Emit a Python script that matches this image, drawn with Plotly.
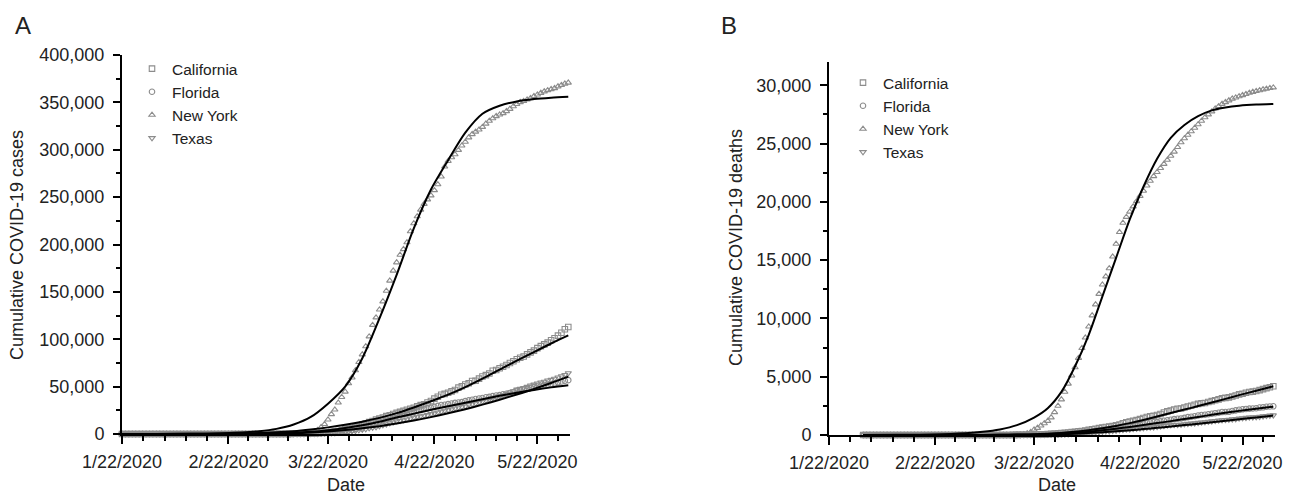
import numpy as np
import pandas as pd
import plotly.graph_objects as go

FONT = "Liberation Sans, Arial, Helvetica, sans-serif"

STATES = ["California", "Florida", "New York", "Texas"]
SYMBOLS = ["square-open", "circle-open", "triangle-up-open", "triangle-down-open"]

# ---------------- Panel A: cumulative cases, 1/22/2020 .. 5/31/2020 ----------------
CASE_START, CASE_END = "2020-01-22", "2020-05-31"

CA_CASES_JANFEB = [0, 0, 0, 1, 2, 2, 2, 2, 2, 3,
                   3, 6, 6, 6, 6, 6, 6, 6, 6, 6, 7, 7, 7, 7, 7, 7, 7, 7, 7, 8,
                   8, 8, 8, 8, 8, 10, 10, 21, 24]
CA_CASES_MAR = [33, 38, 45, 55, 60, 69, 88, 114, 133, 157, 177, 221, 282, 340, 426, 557, 698, 891, 1067, 1283,
                1536, 1829, 2240, 2644, 3183, 4040, 5095, 5852, 6360, 7421, 8582]
CA_CASES_APR = [9932, 11190, 12569, 13796, 15154, 16284, 17351, 18897, 19710, 21081,
                22348, 23323, 24424, 25536, 26686, 27677, 29157, 30491, 31431, 33261,
                34864, 37344, 39254, 41355, 42368, 43464, 44966, 46500, 48917, 50442]
CA_CASES_MAY = [52197, 53616, 55884, 56212, 58456, 60616, 62148, 63779, 66680, 67600,
                69329, 70978, 72798, 74871, 76793, 78839, 80430, 81795, 84057, 86197,
                88031, 90631, 92710, 94558, 96400, 98980, 101050, 103813, 106878, 110583, 113006]

FL_CASES_JANFEB = [0, 0, 0, 0, 0, 0, 0, 0, 0, 0,
                   0, 0, 0, 0, 0, 0, 0, 0, 0, 0, 0, 0, 0, 0, 0, 0, 0, 0, 0, 0,
                   0, 0, 0, 0, 0, 0, 0, 0, 0]
FL_CASES_MAR = [2, 2, 3, 3, 4, 7, 12, 14, 14, 15, 28, 35, 50, 76, 100, 142, 192, 314, 415, 563,
                764, 1000, 1227, 1412, 1977, 2484, 3198, 3763, 4246, 5473, 6741]
FL_CASES_APR = [6956, 9000, 10268, 11545, 12350, 13324, 14747, 15698, 16826, 17968,
                18986, 19895, 21019, 21628, 22519, 23340, 24753, 25492, 26314, 27059,
                27869, 28576, 29648, 30533, 30839, 31528, 32138, 32846, 33193, 33690]
FL_CASES_MAY = [34728, 35463, 36078, 36897, 37439, 38002, 38828, 39199, 40001, 40596,
                40982, 41923, 42402, 43210, 44138, 45588, 46442, 46944, 47471, 48675,
                49451, 50127, 50867, 51746, 52255, 52634, 53285, 54497, 55424, 56163, 56830]

NY_CASES_JANFEB = [0, 0, 0, 0, 0, 0, 0, 0, 0, 0,
                   0, 0, 0, 0, 0, 0, 0, 0, 0, 0, 0, 0, 0, 0, 0, 0, 0, 0, 0, 0,
                   0, 0, 0, 0, 0, 0, 0, 0, 0]
NY_CASES_MAR = [1, 1, 2, 11, 22, 44, 89, 106, 142, 173, 217, 326, 421, 610, 732, 950, 1700, 2382, 4152, 7102,
                10356, 15168, 20875, 25665, 33066, 38987, 44635, 53363, 59568, 67174, 75832]
NY_CASES_APR = [83889, 92506, 102870, 114996, 122911, 131239, 139875, 151061, 161779, 172348,
                181026, 189033, 195031, 202208, 213779, 222284, 229642, 236732, 242786, 247512,
                251690, 257216, 263460, 271590, 282143, 288045, 291996, 295106, 299691, 304372]
NY_CASES_MAY = [308314, 312977, 316415, 318953, 321192, 323978, 327469, 330407, 333122, 335395,
                337055, 338485, 340661, 343051, 345813, 348232, 350121, 351371, 352845, 354370,
                356458, 358154, 359926, 361515, 362764, 363836, 364965, 366733, 368284, 369660, 370770]

TX_CASES_JANFEB = [0, 0, 0, 0, 0, 0, 0, 0, 0, 0,
                   0, 0, 0, 0, 0, 0, 0, 0, 0, 0, 0, 0, 0, 0, 0, 0, 0, 0, 0, 0,
                   0, 0, 0, 0, 0, 0, 0, 0, 0]
TX_CASES_MAR = [0, 0, 0, 1, 4, 5, 8, 11, 13, 14, 21, 30, 40, 58, 73, 85, 109, 176, 262, 376,
                575, 760, 894, 1038, 1396, 1731, 2108, 2639, 3113, 3354, 4055]
TX_CASES_APR = [4588, 5281, 6110, 6812, 7276, 8262, 9353, 10230, 11409, 12315,
                13484, 13906, 14624, 15492, 16455, 17371, 18260, 18923, 19458, 20087,
                21069, 21944, 22806, 23773, 24631, 25297, 26171, 27054, 28087, 28727]
TX_CASES_MAY = [29229, 30917, 31548, 32332, 33369, 34422, 35390, 36609, 37860, 38869,
                39869, 41048, 42403, 43851, 45198, 46999, 47784, 48693, 49912, 51323,
                52268, 53449, 54509, 55348, 56560, 57230, 58408, 59776, 61006, 62338, 64287]

# fitted curves (days after 1/22/2020)
FIT_DAYS_A = [0, 10, 20, 30, 40, 45, 50, 55, 60, 65, 70, 75, 80, 85, 90, 95, 100, 105, 110, 115, 120, 125, 130]
CA_FIT_A = [30, 80, 200, 450, 1000, 1800, 3000, 4800, 7000, 9700, 13000, 17000, 22000, 28000, 34500, 41500,
            49500, 58500, 68000, 77500, 86500, 95500, 104000]
FL_FIT_A = [10, 30, 80, 150, 300, 650, 1200, 2300, 4000, 6300, 9200, 13000, 17500, 21500, 25500, 29300,
            33000, 36700, 40300, 43500, 46500, 49200, 51500]
NY_FIT_A = [20, 80, 270, 900, 3000, 5400, 10000, 18000, 32000, 50000, 80000, 122000, 168000, 217000, 258000,
            289000, 318000, 338000, 346500, 351000, 353500, 355000, 356000]
TX_FIT_A = [10, 25, 60, 120, 200, 450, 800, 1500, 2600, 4100, 6000, 8300, 11000, 14200, 17800, 21800,
            26200, 31000, 36200, 41700, 47500, 53800, 60500]

# ---------------- Panel B: cumulative deaths, 2/1/2020 .. 5/31/2020 ----------------
DEATH_START, DEATH_END = "2020-02-01", "2020-05-31"

FEB_ZERO = [0, 0, 0, 0, 0, 0, 0, 0, 0, 0, 0, 0, 0, 0, 0, 0, 0, 0, 0, 0,
            0, 0, 0, 0, 0, 0, 0, 0, 0]

CA_DEATHS_MAR = [0, 0, 0, 1, 1, 1, 1, 1, 1, 2, 4, 4, 5, 6, 6, 11, 13, 17, 18, 23,
                 28, 36, 43, 53, 65, 84, 101, 122, 136, 164, 185]
CA_DEATHS_APR = [211, 246, 276, 319, 343, 374, 441, 495, 540, 586, 640, 687, 718, 765, 822, 905, 1011, 1098, 1148, 1210,
                 1279, 1361, 1459, 1544, 1612, 1640, 1720, 1807, 1933, 2029]
CA_DEATHS_MAY = [2105, 2186, 2247, 2270, 2360, 2444, 2510, 2592, 2668, 2727, 2747, 2833, 2907, 2977, 3057, 3156,
                 3183, 3231, 3304, 3393, 3481, 3541, 3628, 3688, 3723, 3776, 3854, 3935, 4020, 4094, 4184]

FL_DEATHS_MAR = [0, 0, 0, 0, 2, 2, 2, 2, 2, 2, 2, 2, 4, 5, 5, 6, 7, 8, 10, 11,
                 13, 16, 20, 22, 27, 34, 46, 54, 56, 71, 85]
FL_DEATHS_APR = [100, 130, 165, 195, 227, 253, 287, 323, 354, 395, 438, 463, 498, 571, 615, 668, 726, 764, 774, 825,
                 867, 893, 974, 1046, 1077, 1096, 1104, 1172, 1218, 1268]
FL_DEATHS_MAY = [1314, 1364, 1398, 1421, 1471, 1537, 1567, 1613, 1672, 1715, 1734, 1778, 1825, 1870, 1905, 1969,
                 1974, 1990, 2058, 2114, 2161, 2204, 2236, 2259, 2273, 2296, 2355, 2375, 2421, 2445, 2461]

NY_DEATHS_MAR = [0, 0, 0, 0, 0, 0, 0, 0, 0, 0, 0, 0, 0, 2, 3, 5, 10, 25, 60, 130,
                 250, 450, 600, 800, 1000, 1200, 1500, 1950, 2500, 3050, 3700]
NY_DEATHS_APR = [4400, 5100, 5800, 6600, 7450, 8350, 9300, 10250, 11200, 12100,
                 12900, 13600, 14300, 15300, 16400, 17400, 18200, 18700, 19150, 19600,
                 20050, 20500, 20950, 21400, 21800, 22200, 22550, 22900, 23250, 23600]
NY_DEATHS_MAY = [23950, 24300, 24700, 25100, 25450, 25750, 26050, 26350, 26650, 26950,
                 27250, 27500, 27750, 28000, 28200, 28400, 28550, 28700, 28850, 28950,
                 29050, 29150, 29250, 29350, 29430, 29500, 29570, 29640, 29700, 29760, 29810]

TX_DEATHS_MAR = [0, 0, 0, 0, 0, 0, 0, 0, 0, 0, 0, 0, 0, 0, 0, 1, 1, 2, 4, 5,
                 7, 9, 11, 14, 18, 24, 31, 36, 42, 47, 64]
TX_DEATHS_APR = [75, 91, 106, 119, 131, 164, 191, 208, 236, 255, 282, 308, 320, 348, 384, 412, 442, 478, 490, 518,
                 552, 572, 601, 628, 650, 667, 699, 739, 792, 818]
TX_DEATHS_MAY = [846, 866, 879, 893, 927, 967, 990, 1008, 1049, 1088, 1107, 1143, 1180, 1214, 1248, 1275,
                 1302, 1320, 1347, 1372, 1419, 1440, 1478, 1511, 1522, 1533, 1563, 1609, 1640, 1674, 1693]

FIT_DAYS_B = [10, 20, 30, 40, 45, 50, 55, 60, 64, 68, 72, 76, 80, 84, 88, 92, 96, 100, 104, 108, 112, 116, 120, 125, 130]
CA_FIT_B = [0, 1, 2, 5, 10, 20, 35, 60, 110, 180, 280, 410, 580, 780, 1020, 1290, 1580, 1880, 2180, 2480,
            2790, 3100, 3420, 3800, 4180]
FL_FIT_B = [0, 1, 2, 5, 8, 12, 20, 30, 60, 110, 180, 280, 400, 540, 690, 850, 1020, 1190, 1370, 1550,
            1730, 1900, 2070, 2260, 2430]
NY_FIT_B = [4, 13, 44, 150, 270, 480, 850, 1500, 2300, 3700, 5900, 8600, 11900, 15200, 18500, 21300,
            23700, 25500, 26600, 27350, 27850, 28100, 28250, 28350, 28400]
TX_FIT_B = [0, 0, 1, 2, 4, 7, 12, 20, 40, 70, 110, 170, 240, 320, 410, 510, 620, 730, 850, 970,
            1090, 1220, 1350, 1510, 1670]

MAJOR_TICKS = ["2020-01-22", "2020-02-22", "2020-03-22", "2020-04-22", "2020-05-22"]
MAJOR_LABELS = ["1/22/2020", "2/22/2020", "3/22/2020", "4/22/2020", "5/22/2020"]

# ------------------------------------------------------------------------------------
case_dates = pd.date_range(CASE_START, CASE_END, freq="D")
death_dates = pd.date_range(DEATH_START, DEATH_END, freq="D")
t0 = pd.Timestamp(CASE_START)

cases = {
    "California": CA_CASES_JANFEB + CA_CASES_MAR + CA_CASES_APR + CA_CASES_MAY,
    "Florida": FL_CASES_JANFEB + FL_CASES_MAR + FL_CASES_APR + FL_CASES_MAY,
    "New York": NY_CASES_JANFEB + NY_CASES_MAR + NY_CASES_APR + NY_CASES_MAY,
    "Texas": TX_CASES_JANFEB + TX_CASES_MAR + TX_CASES_APR + TX_CASES_MAY,
}
deaths = {
    "California": FEB_ZERO + CA_DEATHS_MAR + CA_DEATHS_APR + CA_DEATHS_MAY,
    "Florida": FEB_ZERO + FL_DEATHS_MAR + FL_DEATHS_APR + FL_DEATHS_MAY,
    "New York": FEB_ZERO + NY_DEATHS_MAR + NY_DEATHS_APR + NY_DEATHS_MAY,
    "Texas": FEB_ZERO + TX_DEATHS_MAR + TX_DEATHS_APR + TX_DEATHS_MAY,
}
fits_a = {"California": CA_FIT_A, "Florida": FL_FIT_A, "New York": NY_FIT_A, "Texas": TX_FIT_A}
fits_b = {"California": CA_FIT_B, "Florida": FL_FIT_B, "New York": NY_FIT_B, "Texas": TX_FIT_B}

fit_dates_a = [t0 + pd.Timedelta(days=d) for d in FIT_DAYS_A]
fit_dates_b = [t0 + pd.Timedelta(days=d) for d in FIT_DAYS_B]

MARKER_COLOR = "#8c8c8c"
fig = go.Figure()

for st, sym in zip(STATES, SYMBOLS):
    fig.add_trace(go.Scatter(
        x=case_dates, y=cases[st], mode="markers", name=st, legend="legend",
        marker=dict(symbol=sym, size=5.5, color=MARKER_COLOR, line=dict(width=1.1, color=MARKER_COLOR)),
        cliponaxis=False, xaxis="x", yaxis="y"))
for st, sym in zip(STATES, SYMBOLS):
    fig.add_trace(go.Scatter(
        x=death_dates, y=deaths[st], mode="markers", name=st, legend="legend2",
        marker=dict(symbol=sym, size=5.5, color=MARKER_COLOR, line=dict(width=1.1, color=MARKER_COLOR)),
        cliponaxis=False, xaxis="x2", yaxis="y2"))
for st in STATES:
    fig.add_trace(go.Scatter(
        x=fit_dates_a, y=fits_a[st], mode="lines", showlegend=False,
        line=dict(color="black", width=2, shape="spline", smoothing=0.8),
        xaxis="x", yaxis="y"))
    fig.add_trace(go.Scatter(
        x=fit_dates_b, y=fits_b[st], mode="lines", showlegend=False,
        line=dict(color="black", width=2, shape="spline", smoothing=0.8),
        xaxis="x2", yaxis="y2"))

# minor ticks: 4 between successive majors, plus one after the last
major_ts = [pd.Timestamp(d) for d in MAJOR_TICKS]
minor_ts = []
for a, b in zip(major_ts[:-1], major_ts[1:]):
    step = (b - a) / 5
    minor_ts += [a + step * k for k in range(1, 5)]
minor_ts.append(major_ts[-1] + (major_ts[-1] - major_ts[-2]) / 5)

W, H = 1296, 496
def px(xp):
    return xp / W
def py(yp):
    return 1 - yp / H

tickfont = dict(family=FONT, size=18, color="#222")
common_x = dict(
    type="date", showline=True, linecolor="black", linewidth=2, mirror=False,
    ticks="outside", ticklen=8, tickwidth=2, tickcolor="black", automargin=False,
    tickmode="array", tickvals=MAJOR_TICKS, ticktext=MAJOR_LABELS, tickfont=tickfont,
    showgrid=False, zeroline=False, ticklabelstandoff=2,
    minor=dict(tickmode="array", tickvals=minor_ts, ticklen=5, tickwidth=1.6, tickcolor="black", ticks="outside", showgrid=False),
)
common_y = dict(
    showline=True, linecolor="black", linewidth=2, automargin=False,
    ticks="outside", ticklen=7, tickwidth=2, tickcolor="black",
    tickformat=",d", tickfont=tickfont, showgrid=False, zeroline=False, ticklabelstandoff=5,
)

LEG_FONT = dict(family=FONT, size=15.5, color="#222")
fig.update_layout(
    width=W, height=H, margin=dict(l=0, r=0, t=0, b=0, autoexpand=False),
    paper_bgcolor="white", plot_bgcolor="white",
    font=dict(family=FONT, color="#222"),
    xaxis=dict(domain=[px(122), px(570)], anchor="y",
               range=[CASE_START, "2020-05-31 12:00"], **common_x),
    yaxis=dict(domain=[py(434), py(55)], anchor="x", range=[0, 400000], dtick=50000,
               minor=dict(dtick=25000, ticklen=4, tickwidth=1.6, tickcolor="black", ticks="outside", showgrid=False),
               **common_y),
    xaxis2=dict(domain=[px(829), px(1275)], anchor="y2",
                range=[CASE_START, "2020-05-31 12:00"], **common_x),
    yaxis2=dict(domain=[py(435), py(62)], anchor="x2", range=[0, 32000], dtick=5000,
                minor=dict(dtick=2500, ticklen=4, tickwidth=1.6, tickcolor="black", ticks="outside", showgrid=False),
                **common_y),
    legend=dict(x=px(132), y=py(52), xanchor="left", yanchor="top", bgcolor="rgba(0,0,0,0)",
                font=LEG_FONT, itemwidth=30, tracegroupgap=0),
    legend2=dict(x=px(843), y=py(66), xanchor="left", yanchor="top", bgcolor="rgba(0,0,0,0)",
                 font=LEG_FONT, itemwidth=30, tracegroupgap=0),
    showlegend=True,
)

ann_font = dict(family=FONT, size=18, color="#222")
annotations = [
    dict(text="A", x=px(23), y=py(25), xref="paper", yref="paper", showarrow=False,
         font=dict(family=FONT, size=24, color="#222"), xanchor="center", yanchor="middle"),
    dict(text="B", x=px(729), y=py(25), xref="paper", yref="paper", showarrow=False,
         font=dict(family=FONT, size=24, color="#222"), xanchor="center", yanchor="middle"),
    dict(text="Date", x=px(346), y=py(485), xref="paper", yref="paper", showarrow=False,
         font=ann_font, xanchor="center", yanchor="middle"),
    dict(text="Date", x=px(1057), y=py(485), xref="paper", yref="paper", showarrow=False,
         font=ann_font, xanchor="center", yanchor="middle"),
    dict(text="Cumulative COVID-19 cases", x=px(17), y=py(245), xref="paper", yref="paper",
         showarrow=False, textangle=-90, font=ann_font, xanchor="center", yanchor="middle"),
    dict(text="Cumulative COVID-19 deaths", x=px(736), y=py(248), xref="paper", yref="paper",
         showarrow=False, textangle=-90, font=ann_font, xanchor="center", yanchor="middle"),
]
fig.update_layout(annotations=annotations)

fig.write_html("out.html", config={"displayModeBar": False},
               post_script="document.body.style.margin='0';document.body.style.overflow='hidden';")
